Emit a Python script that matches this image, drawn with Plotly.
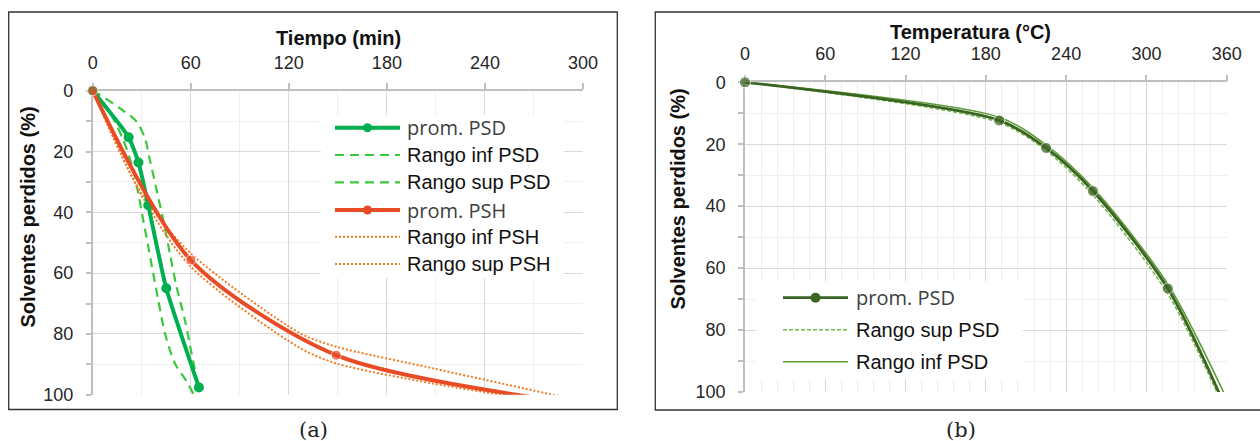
import plotly.graph_objects as go

W, H = 1260, 441

# ---- Panel (a): solvent loss vs. time ----
psd_t = [0, 22, 28, 34, 45, 65]
psd_v = [0, 15.3, 23.6, 37.7, 65.0, 97.6]
psd_inf_t = [0, 4.5, 16.7, 26.9, 32, 35, 39.1, 43.2, 47.2, 51.3, 56.4, 60.5, 64.5]
psd_inf_v = [0, 1.4, 5.8, 10.2, 15.7, 22.8, 32.7, 42.5, 53.5, 64.5, 75.4, 86.4, 96.8]
psd_sup_t = [0, 8.5, 18.7, 24.8, 27.9, 30.9, 34, 37, 40.1, 44.2, 50.3, 57.5, 62.5]
psd_sup_v = [0, 5.3, 16.2, 26.1, 33.8, 42.5, 51.3, 60.1, 68.8, 79.8, 89.7, 95.7, 100.6]
psh_t = [0, 60, 149, 275]
psh_v = [0, 55.7, 87.0, 101.3]
psh_inf_t = [0, 30, 60, 127, 149, 208, 262]
psh_inf_v = [0, 34.5, 57.9, 84.7, 89.7, 96.3, 101.0]
psh_sup_t = [0, 30, 60, 127, 149, 208, 290]
psh_sup_v = [0, 34.0, 53.5, 79.8, 84.2, 91.3, 101.0]

# ---- Panel (b): solvent loss vs. temperature ----
temp_T = [0, 190, 225, 260, 316, 360]
temp_prom = [0, 12.3, 21.2, 35.1, 66.6, 105.8]
temp_sup = [0, 13.0, 22.0, 36.4, 68.3, 107.0]
temp_inf = [0, 11.3, 20.2, 34.1, 65.2, 102.2]

x_ticks_a = [0, 60, 120, 180, 240, 300]
x_ticks_b = [0, 60, 120, 180, 240, 300, 360]
y_ticks = [0, 20, 40, 60, 80, 100]

GREEN = "#00B050"
GREEN_DASH = "#3CC83C"
RED = "#E84B26"
ORANGE = "#F47B20"
DK_GREEN = "#3B6322"
MID_GREEN = "#5E9E38"
LT_GREEN = "#74B850"

SANS = "Liberation Sans, Arial, sans-serif"


def X(px):
    return px / W


def Y(py):
    return 1 - py / H


fig = go.Figure()

# panel (a) traces
fig.add_trace(go.Scatter(x=psd_inf_t, y=psd_inf_v, mode="lines", xaxis="x", yaxis="y",
                         line=dict(color=GREEN_DASH, width=2.2, dash="9px,6px", shape="spline", smoothing=0.8),
                         name="Rango inf PSD"))
fig.add_trace(go.Scatter(x=psd_sup_t, y=psd_sup_v, mode="lines", xaxis="x", yaxis="y",
                         line=dict(color=GREEN_DASH, width=2.2, dash="9px,6px", shape="spline", smoothing=0.8),
                         name="Rango sup PSD"))
fig.add_trace(go.Scatter(x=psh_inf_t, y=psh_inf_v, mode="lines", xaxis="x", yaxis="y",
                         line=dict(color=ORANGE, width=2, dash="2px,2px", shape="spline", smoothing=0.8),
                         name="Rango inf PSH"))
fig.add_trace(go.Scatter(x=psh_sup_t, y=psh_sup_v, mode="lines", xaxis="x", yaxis="y",
                         line=dict(color=ORANGE, width=2, dash="2px,2px", shape="spline", smoothing=0.8),
                         name="Rango sup PSH"))
fig.add_trace(go.Scatter(x=psd_t, y=psd_v, mode="lines+markers", xaxis="x", yaxis="y",
                         line=dict(color=GREEN, width=4, shape="spline", smoothing=0.5),
                         marker=dict(color=GREEN, size=10), cliponaxis=False, name="prom. PSD"))
fig.add_trace(go.Scatter(x=psh_t, y=psh_v, mode="lines+markers", xaxis="x", yaxis="y",
                         line=dict(color=RED, width=4, shape="spline", smoothing=0.8),
                         marker=dict(color=RED, size=[10, 10, 10, 0]), cliponaxis=False, name="prom. PSH"))

# panel (b) traces
fig.add_trace(go.Scatter(x=temp_T, y=temp_sup, mode="lines", xaxis="x2", yaxis="y2",
                         line=dict(color=LT_GREEN, width=1.6, dash="4px,2px", shape="spline", smoothing=0.8),
                         name="Rango sup PSD"))
fig.add_trace(go.Scatter(x=temp_T, y=temp_inf, mode="lines", xaxis="x2", yaxis="y2",
                         line=dict(color=MID_GREEN, width=1.6, shape="spline", smoothing=0.8),
                         name="Rango inf PSD"))
fig.add_trace(go.Scatter(x=temp_T, y=temp_prom, mode="lines+markers", xaxis="x2", yaxis="y2",
                         line=dict(color=DK_GREEN, width=2.8, shape="spline", smoothing=0.8),
                         marker=dict(color=DK_GREEN, size=[11, 11, 11, 11, 11, 0]), cliponaxis=False,
                         name="prom. PSD"))

axis_common = dict(
    automargin=False, layer="below traces",
    showgrid=True, gridcolor="#D9D9D9", gridwidth=1.3,
    showline=True, linecolor="#BFBFBF", linewidth=1.5,
    ticks="outside", ticklen=6, tickcolor="#BFBFBF", tickwidth=1.5,
    tickfont=dict(family=SANS, size=18, color="#262626"),
    zeroline=False, fixedrange=True,
)

fig.update_layout(
    width=W, height=H, margin=dict(l=0, r=0, t=0, b=0, autoexpand=False),
    paper_bgcolor="white", plot_bgcolor="white", showlegend=False,
    xaxis=dict(axis_common, domain=[X(92.7), X(583)], range=[0, 300], side="top", anchor="y",
               tickvals=x_ticks_a, ticklabelstandoff=7,
               minor=dict(dtick=30, tick0=0, showgrid=True, gridcolor="#EFEFEF", gridwidth=1, ticks="")),
    yaxis=dict(axis_common, domain=[Y(394.7), Y(90.7)], range=[100, 0], anchor="x",
               tickvals=y_ticks, ticklen=5, ticklabelstandoff=9,
               minor=dict(dtick=10, tick0=0, showgrid=True, gridcolor="#EFEFEF", gridwidth=1,
                          ticks="outside", ticklen=5, tickcolor="#BFBFBF")),
    xaxis2=dict(axis_common, domain=[X(745), X(1226.7)], range=[0, 360], side="top", anchor="y2",
                tickvals=x_ticks_b, ticklabelstandoff=7,
                minor=dict(dtick=12, tick0=0, showgrid=True, gridcolor="#EFEFEF", gridwidth=1, ticks="")),
    yaxis2=dict(axis_common, domain=[Y(392), Y(82.3)], range=[100, 0], anchor="x2",
                tickvals=y_ticks, ticklen=5, ticklabelstandoff=9,
                minor=dict(dtick=10, tick0=0, showgrid=True, gridcolor="#EFEFEF", gridwidth=1,
                           ticks="outside", ticklen=5, tickcolor="#BFBFBF")),
)

shapes = []
annotations = []

# panel frames
shapes.append(dict(type="rect", xref="paper", yref="paper", x0=X(8.7), x1=X(617.3), y0=Y(409.5), y1=Y(12),
                   line=dict(color="#333333", width=1.3), layer="below"))
shapes.append(dict(type="rect", xref="paper", yref="paper", x0=X(655.3), x1=X(1266), y0=Y(410), y1=Y(12),
                   line=dict(color="#333333", width=1.3), layer="below"))


# axis titles
def title(text, x, y, angle=0):
    annotations.append(dict(text=text, xref="paper", yref="paper", x=X(x), y=Y(y), showarrow=False,
                            xanchor="center", yanchor="middle", textangle=angle,
                            font=dict(family=SANS, size=20, color="#111111", weight="bold")))


title("Tiempo (min)", 338.5, 38)
title("Solventes perdidos (%)", 27.5, 217, -90)
title("Temperatura (°C)", 970, 32)
title("Solventes perdidos (%)", 677.5, 199, -90)

# captions
for txt, x in (("(a)", 313), ("(b)", 961)):
    annotations.append(dict(text=txt, xref="paper", yref="paper", x=X(x), y=Y(430), showarrow=False,
                            xanchor="center", yanchor="middle",
                            font=dict(family="DejaVu Serif, serif", size=21, color="#222222")))


# legend boxes and entries
def legend(box, x_line0, x_line1, x_text, rows):
    bx0, by0, bx1, by1 = box
    shapes.append(dict(type="rect", xref="paper", yref="paper", x0=X(bx0), x1=X(bx1), y0=Y(by1), y1=Y(by0),
                       fillcolor="white", line=dict(width=0), layer="above"))
    for y, label, color, width, dash, marker, font in rows:
        shapes.append(dict(type="line", xref="paper", yref="paper", x0=X(x_line0), x1=X(x_line1),
                           y0=Y(y), y1=Y(y), line=dict(color=color, width=width, dash=dash), layer="above"))
        if marker:
            xc = X((x_line0 + x_line1) / 2)
            shapes.append(dict(type="circle", xref="paper", yref="paper", xsizemode="pixel", ysizemode="pixel",
                               xanchor=xc, yanchor=Y(y), x0=-marker / 2, x1=marker / 2,
                               y0=-marker / 2, y1=marker / 2, fillcolor=color, line=dict(width=0),
                               layer="above"))
        annotations.append(dict(text=label, xref="paper", yref="paper", x=X(x_text), y=Y(y), showarrow=False,
                                xanchor="left", yanchor="middle", font=font))


f_open = dict(family="Open Sans, sans-serif", size=20, color="#404040")
f_arial = dict(family=SANS, size=20, color="#111111")

legend((320.7, 115, 564, 278), 335, 400, 405, [
    (127.7, "prom. PSD", GREEN, 4, "solid", 9, f_open),
    (155, "Rango inf PSD", GREEN_DASH, 2.2, "9px,6px", 0, f_arial),
    (182.3, "Rango sup PSD", GREEN_DASH, 2.2, "9px,6px", 0, f_arial),
    (210, "prom. PSH", RED, 4, "solid", 9, f_open),
    (236.7, "Rango inf PSH", ORANGE, 2, "2px,2px", 0, f_arial),
    (264, "Rango sup PSH", ORANGE, 2, "2px,2px", 0, f_arial),
])

legend((756, 281, 1023, 379), 783, 848, 854, [
    (297.7, "prom. PSD", DK_GREEN, 2.8, "solid", 10, f_open),
    (329.7, "Rango sup PSD", LT_GREEN, 1.6, "4px,2px", 0, f_arial),
    (361.8, "Rango inf PSD", MID_GREEN, 1.6, "solid", 0, f_arial),
])

fig.update_layout(shapes=shapes, annotations=annotations)

fig.write_html("out.html")
